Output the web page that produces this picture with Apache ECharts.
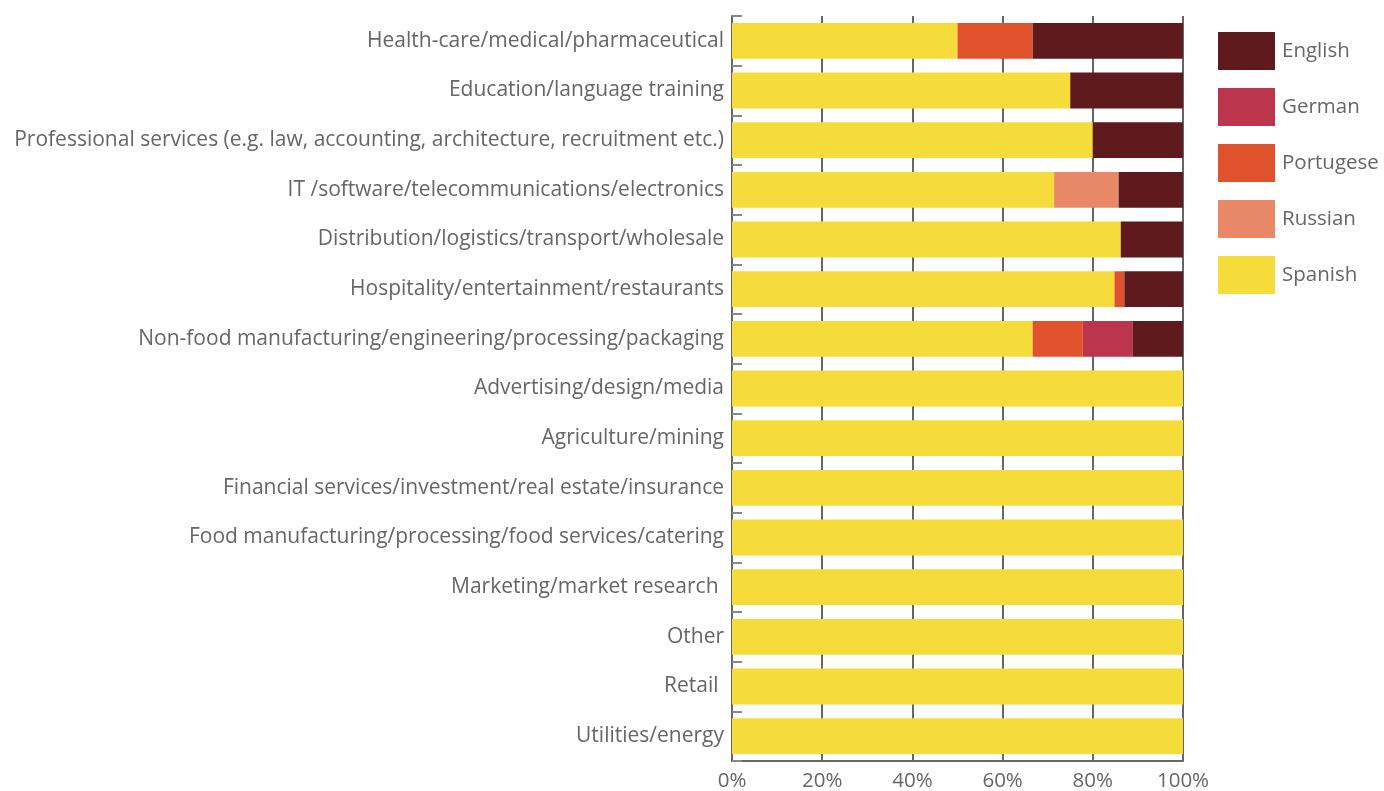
<!DOCTYPE html>
<html>
<head>
<meta charset="utf-8">
<script src="https://cdn.jsdelivr.net/npm/echarts@6/dist/echarts.min.js"></script>
<style>
html,body{margin:0;padding:0;background:#fff;}
#chart{width:1384px;height:791px;}
</style>
</head>
<body>
<div id="chart"></div>
<script>
// Industry sectors, listed top to bottom
const categories = [
  'Health-care/medical/pharmaceutical',
  'Education/language training',
  'Professional services (e.g. law, accounting, architecture, recruitment etc.)',
  'IT /software/telecommunications/electronics',
  'Distribution/logistics/transport/wholesale',
  'Hospitality/entertainment/restaurants',
  'Non-food manufacturing/engineering/processing/packaging',
  'Advertising/design/media',
  'Agriculture/mining',
  'Financial services/investment/real estate/insurance',
  'Food manufacturing/processing/food services/catering',
  'Marketing/market research ',
  'Other',
  'Retail ',
  'Utilities/energy'
];

// Share of each language per sector (%)
const spanish    = [50, 75, 80, 71.43, 86.2, 84.8, 66.67, 100, 100, 100, 100, 100, 100, 100, 100];
const russian    = [0, 0, 0, 14.29, 0, 0, 0, 0, 0, 0, 0, 0, 0, 0, 0];
const portugese  = [16.67, 0, 0, 0, 0, 2.2, 11.11, 0, 0, 0, 0, 0, 0, 0, 0];
const german     = [0, 0, 0, 0, 0, 0, 11.11, 0, 0, 0, 0, 0, 0, 0, 0];
const english    = [33.33, 25, 20, 14.28, 13.8, 13.0, 11.11, 0, 0, 0, 0, 0, 0, 0, 0];

const xTicks = [0, 20, 40, 60, 80, 100];

const colors = {
  English: '#5e1a1d',
  German: '#bb354d',
  Portugese: '#e0522b',
  Russian: '#e98867',
  Spanish: '#f6dc3b'
};

const FONT = '"Open Sans"';

function bar(name, data) {
  return {
    name: name,
    type: 'bar',
    stack: 'total',
    data: data,
    barCategoryGap: '28%',
    itemStyle: { color: colors[name] }
  };
}

const chart = echarts.init(document.getElementById('chart'), null, { renderer: 'canvas' });
chart.setOption({
  animation: false,
  backgroundColor: '#fff',
  textStyle: { fontFamily: FONT },
  grid: { left: 732, right: 201, top: 16, bottom: 30, containLabel: false, outerBoundsMode: 'none' },
  legend: {
    orient: 'vertical',
    left: 1218,
    top: 32,
    padding: 0,
    itemWidth: 57,
    itemHeight: 38,
    itemGap: 18,
    icon: 'rect',
    selectedMode: false,
    data: ['English', 'German', 'Portugese', 'Russian', 'Spanish'],
    textStyle: { fontSize: 20.5, color: '#666', fontFamily: FONT, padding: [4, 0, 0, 2] }
  },
  xAxis: {
    type: 'value',
    min: xTicks[0],
    max: xTicks[xTicks.length - 1],
    interval: 20,
    axisLine: { show: true, lineStyle: { color: '#666', width: 2 } },
    axisTick: { show: false },
    splitLine: { show: true, lineStyle: { color: '#666', width: 2 } },
    axisLabel: {
      formatter: v => v + '%',
      fontSize: 20.5,
      color: '#666',
      margin: 10,
      fontFamily: FONT
    }
  },
  yAxis: {
    type: 'category',
    inverse: true,
    data: categories,
    axisLine: { show: true, lineStyle: { color: '#666', width: 2 } },
    axisTick: { show: true, inside: true, length: 10, lineStyle: { color: '#888', width: 2 } },
    axisLabel: { fontSize: 21, color: '#666', margin: 8, fontFamily: FONT, padding: [4, 0, 0, 0] }
  },
  series: [
    bar('Spanish', spanish),
    bar('Russian', russian),
    bar('Portugese', portugese),
    bar('German', german),
    bar('English', english)
  ]
});
</script>
</body>
</html>
